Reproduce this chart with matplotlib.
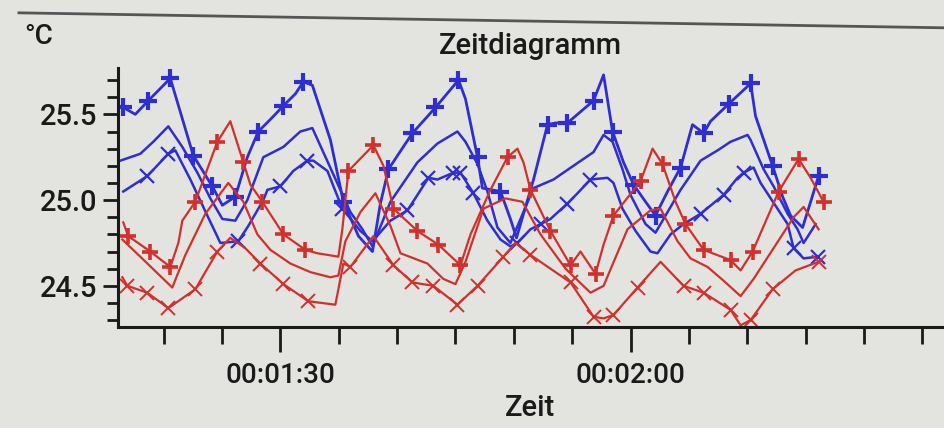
import matplotlib.pyplot as plt
from matplotlib.ticker import MultipleLocator, FixedLocator, FuncFormatter

plt.rcParams['font.family'] = ['Roboto', 'DejaVu Sans']
plt.rcParams['font.weight'] = 'medium'

# Zeit in Sekunden, Temperatur in °C
t_b1 = [76.54, 77.57, 78.69, 80.57, 82.54, 84.17, 85.03, 86.14, 87.17, 88.11,
        89.14, 90.26, 91.29, 91.97, 92.74, 94.29, 95.40, 96.69, 97.89, 98.57,
        99.26, 101.31, 103.29, 105.26, 105.86, 106.89, 107.31, 108.86, 109.71, 110.23,
        111.69, 112.89, 113.57, 114.60, 116.83, 117.69, 118.46, 119.40, 120.26, 121.29,
        122.14, 123.17, 124.29, 125.31, 126.26, 126.86, 128.40, 130.29, 130.71, 132.17,
        133.03, 133.71, 134.74, 135.43, 136.11]
v_b1 = [25.54, 25.50, 25.58, 25.71, 25.26, 25.08, 24.97, 25.02, 25.25, 25.40,
        25.47, 25.55, 25.62, 25.69, 25.67, 25.35, 24.99, 24.79, 24.70, 24.98,
        25.18, 25.39, 25.54, 25.70, 25.59, 25.25, 25.07, 25.05, 24.89, 24.78,
        25.12, 25.44, 25.45, 25.45, 25.58, 25.73, 25.40, 25.22, 25.09, 24.99,
        24.91, 25.05, 25.19, 25.44, 25.39, 25.46, 25.56, 25.68, 25.49, 25.20,
        25.02, 24.91, 24.84, 24.99, 25.14]
m_b1 = [0, 2, 3, 4, 5, 7, 9, 11, 13, 16, 20, 21, 22, 23, 25, 27, 31, 33, 34, 36,
        38, 40, 42, 44, 46, 47, 49, 54]

t_b2 = [76.29, 78.00, 79.11, 80.40, 81.60, 82.89, 84.00, 85.03, 86.14, 87.17,
        88.54, 90.26, 91.71, 92.74, 94.54, 96.00, 97.03, 97.89, 99.43, 101.74,
        103.46, 105.17, 105.86, 106.89, 107.74, 108.60, 109.71, 111.69, 113.40, 115.11,
        116.83, 117.69, 118.46, 119.31, 120.00, 121.29, 122.14, 124.29, 126.00, 127.46,
        128.57, 130.03, 130.29, 131.40, 132.26, 133.46, 134.31, 134.83, 135.86]
v_b2 = [25.23, 25.27, 25.34, 25.43, 25.31, 25.16, 25.01, 24.89, 24.88, 25.00,
        25.25, 25.31, 25.40, 25.42, 25.15, 24.93, 24.83, 24.73, 24.99, 25.22,
        25.33, 25.40, 25.34, 25.21, 25.05, 24.84, 24.75, 25.07, 25.12, 25.20,
        25.28, 25.38, 25.34, 25.18, 25.03, 24.86, 24.81, 25.06, 25.23, 25.29,
        25.34, 25.38, 25.35, 25.18, 25.08, 24.92, 24.83, 24.75, 24.86]

t_b3 = [76.54, 78.60, 80.40, 81.00, 82.29, 83.74, 84.86, 86.40, 87.26, 88.54,
        88.89, 90.00, 91.11, 92.31, 92.83, 94.03, 95.31, 96.86, 97.89, 99.43,
        100.89, 102.69, 103.46, 104.83, 105.43, 106.54, 107.74, 108.86, 109.71, 110.31,
        111.43, 112.29, 113.14, 114.60, 115.46, 116.57, 118.03, 118.54, 119.31, 120.43,
        121.71, 122.31, 123.43, 124.54, 126.00, 127.97, 129.17, 129.69, 130.54, 131.14,
        133.46, 133.97, 134.83, 136.03]
v_b3 = [25.05, 25.14, 25.27, 25.29, 25.12, 24.91, 24.75, 24.76, 24.85, 25.00,
        25.06, 25.08, 25.17, 25.23, 25.23, 25.17, 24.95, 24.82, 24.76, 24.88,
        24.94, 25.13, 25.12, 25.16, 25.16, 25.04, 24.88, 24.77, 24.73, 24.75,
        24.83, 24.86, 24.89, 24.98, 25.04, 25.12, 25.13, 25.10, 24.95, 24.82,
        24.70, 24.69, 24.80, 24.86, 24.92, 25.03, 25.13, 25.16, 25.19, 25.10,
        24.86, 24.72, 24.66, 24.67]
m_b3 = [1, 2, 7, 11, 13, 16, 20, 21, 23, 24, 25, 29, 31, 33, 35, 44, 45, 47, 51, 53]

t_r1 = [76.54, 76.97, 78.86, 80.57, 81.26, 81.60, 82.71, 84.60, 85.71, 86.83,
        87.43, 88.46, 90.26, 92.14, 93.17, 94.97, 95.31, 95.83, 97.97, 98.83,
        99.69, 101.74, 103.54, 105.43, 106.29, 108.00, 109.46, 110.31, 110.83, 111.43,
        113.14, 114.86, 115.71, 117.00, 117.69, 118.54, 120.86, 121.89, 122.74, 123.86,
        124.71, 126.26, 128.57, 129.43, 130.46, 132.69, 134.40, 135.43, 136.54]
v_r1 = [24.87, 24.79, 24.70, 24.61, 24.75, 24.88, 24.99, 25.34, 25.46, 25.22,
        25.09, 24.99, 24.80, 24.71, 24.69, 24.67, 24.83, 25.17, 25.32, 25.20,
        24.95, 24.82, 24.74, 24.62, 24.80, 25.06, 25.25, 25.30, 25.22, 25.06,
        24.82, 24.62, 24.70, 24.57, 24.74, 24.91, 25.11, 25.30, 25.21, 24.99,
        24.86, 24.71, 24.65, 24.59, 24.70, 25.05, 25.24, 25.13, 24.99]
m_r1 = [1, 2, 3, 6, 7, 9, 11, 12, 13, 17, 18, 20, 21, 22, 23, 26, 29, 30, 31, 33,
        35, 36, 38, 40, 41, 42, 44, 45, 46, 48]

t_r2 = [76.46, 78.00, 80.74, 81.86, 83.57, 85.54, 86.83, 88.03, 89.14, 90.86,
        92.57, 94.29, 94.97, 95.57, 96.86, 98.14, 99.43, 100.29, 102.60, 103.97,
        105.00, 105.86, 107.40, 109.29, 110.74, 112.29, 114.43, 116.57, 117.69, 119.74,
        121.71, 122.57, 124.03, 125.14, 126.60, 127.97, 129.43, 130.54, 132.26, 133.97,
        134.83, 136.11]
v_r2 = [24.77, 24.67, 24.49, 24.68, 24.92, 25.10, 24.99, 24.80, 24.71, 24.63,
        24.58, 24.55, 24.56, 24.76, 24.93, 25.04, 24.85, 24.69, 24.63, 24.54,
        24.51, 24.64, 24.95, 25.01, 24.99, 24.80, 24.60, 24.46, 24.50, 24.83,
        24.94, 24.95, 24.76, 24.66, 24.61, 24.53, 24.44, 24.54, 24.72, 24.90,
        24.96, 24.83]

t_r3 = [76.46, 76.89, 78.60, 80.40, 82.71, 84.60, 85.71, 86.99, 88.29, 90.26,
        92.40, 94.71, 95.40, 96.00, 97.97, 99.69, 101.31, 103.11, 105.17, 106.89,
        109.11, 110.14, 111.43, 113.14, 114.86, 116.83, 117.69, 118.54, 120.60, 122.57,
        124.54, 126.26, 128.57, 129.43, 130.29, 132.17, 134.14, 136.11]
v_r3 = [24.55, 24.50, 24.46, 24.37, 24.48, 24.70, 24.78, 24.72, 24.63, 24.51,
        24.41, 24.39, 24.63, 24.61, 24.79, 24.62, 24.52, 24.50, 24.39, 24.50,
        24.67, 24.75, 24.68, 24.60, 24.52, 24.32, 24.31, 24.33, 24.49, 24.64,
        24.50, 24.46, 24.36, 24.27, 24.30, 24.48, 24.59, 24.64]
m_r3 = [1, 2, 3, 4, 5, 8, 9, 10, 13, 15, 16, 17, 18, 19, 20, 22, 24, 25, 27, 28,
        30, 31, 32, 34, 35, 37]

blau = '#2e2ed2'
rot = '#d2302c'
bg = '#e3e3df'
ink = '#1a1a1a'

fig = plt.figure(figsize=(9.45, 4.28), dpi=100, facecolor=bg)
ax = fig.add_axes([0.125, 0.236, 0.872, 0.605], facecolor=bg)

ax.plot(t_b1, v_b1, color=blau, lw=2.0, marker='+', ms=13, mew=3.0, markevery=m_b1)
ax.plot(t_b2, v_b2, color=blau, lw=1.8)
ax.plot(t_b3, v_b3, color=blau, lw=1.8, marker='x', ms=10, mew=1.6, markevery=m_b3)
ax.plot(t_r1, v_r1, color=rot, lw=1.6, marker='+', ms=12, mew=2.6, markevery=m_r1)
ax.plot(t_r2, v_r2, color=rot, lw=1.6)
ax.plot(t_r3, v_r3, color=rot, lw=1.6, marker='x', ms=10, mew=1.4, markevery=m_r3)

ax.set_xlim(76.1, 146.7)
ax.set_ylim(24.26, 25.77)

for s in ['top', 'right']:
    ax.spines[s].set_visible(False)
for s in ['left', 'bottom']:
    ax.spines[s].set_linewidth(2.2)
    ax.spines[s].set_color(ink)

ax.xaxis.set_major_locator(FixedLocator([90, 120]))
ax.xaxis.set_minor_locator(MultipleLocator(5))
ax.xaxis.set_major_formatter(FuncFormatter(
    lambda s, p: '00:%02d:%02d' % (int(s) // 60, int(s) % 60)))
ax.yaxis.set_major_locator(FixedLocator([24.5, 25.0, 25.5]))
ax.yaxis.set_minor_locator(MultipleLocator(0.1))
ax.yaxis.set_major_formatter(FuncFormatter(lambda v, p: '%.1f' % v))

ax.tick_params(axis='x', which='major', length=18, width=2, pad=7,
               labelsize=20, colors=ink)
ax.tick_params(axis='x', which='minor', length=12, width=2, colors=ink)
ax.tick_params(axis='y', which='major', length=11, width=2, pad=4,
               labelsize=21, colors=ink)
ax.tick_params(axis='y', which='minor', length=8, width=2, colors=ink)

fig.text(0.561, 0.893, 'Zeitdiagramm', ha='center', va='center', fontsize=21, color=ink)
fig.text(0.026, 0.915, '°C', ha='left', va='center', fontsize=20, color=ink)
fig.text(0.561, 0.047, 'Zeit', ha='center', va='center', fontsize=21, color=ink)

# obere Fensterkante
fig.add_artist(plt.Line2D([0.02, 1.0], [0.97, 0.935], color='#555555', lw=2))

fig.savefig('out.png', dpi=100, facecolor=bg)
